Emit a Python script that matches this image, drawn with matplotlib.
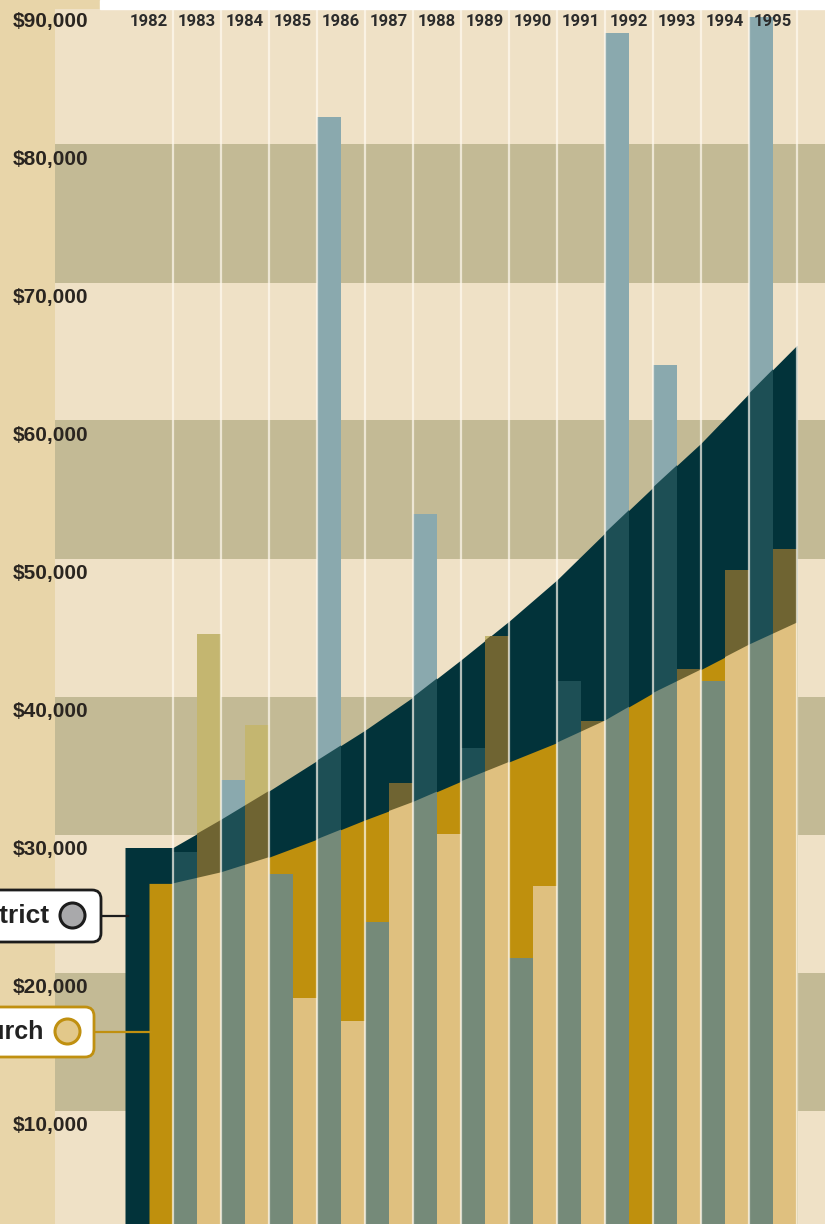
import numpy as np
import matplotlib
matplotlib.use('Agg')
from matplotlib import pyplot as plt
from matplotlib.patches import FancyBboxPatch, Rectangle
from matplotlib.lines import Line2D
from matplotlib.transforms import IdentityTransform, blended_transform_factory

years = list(range(1982, 1996))
# yearly averages (drawn as the two stepped areas)
district_avg = [30000, 32000, 34100, 36300, 38500, 40900, 43600, 46400, 49400, 52800, 56100, 59300, 62900, 66400]
church_avg = [27400, 28200, 29300, 30600, 32000, 33300, 34800, 36200, 37600, 39200, 41200, 42900, 44700, 46300]
# individual pay per year (bars), None = no bar
district_pay = [None, 29700, 34900, 28100, 82900, 24600, 54200, 37200, 22000, 42100, 89000, 65000, 42100, 90200]
church_pay = [None, 45500, 38900, 19100, 17400, 34700, 31000, 45300, 27200, 39200, None, 42900, 50100, 51600]
tick_values = [10000, 20000, 30000, 40000, 50000, 60000, 70000, 80000, 90000]
bands = [(10900, 20900), (30900, 40900), (50900, 60950), (70900, 81000)]

W, H = 825, 1224
# pixel layout of the original
x_first = 149      # centre of 1982
px_year = 48
y_zero = 1261.5    # where $0 would be
px_dollar = 0.0138

tan_strip = '#e8d5a9'
paper = '#efe1c6'
band_col = '#c3ba95'
teal = '#02333a'
gold = '#bf900d'
dist_cols = ('#8aa9ae', '#1d4f55', '#758a79')   # over paper, over teal, over gold
church_cols = ('#c4b670', '#6f6432', '#dfc07f')
txt_col = '#2a2520'

def fx(px):
    return px / W

def fy(py):
    return 1 - py / H

fig = plt.figure(figsize=(W / 100, H / 100), dpi=100, facecolor=tan_strip)
fig.patches.append(Rectangle((fx(100), fy(9)), 1 - fx(100), 9 / H,
                             transform=fig.transFigure, color='white', zorder=0))

ax = fig.add_axes([fx(55), fy(1224), fx(825) - fx(55), (1224 - 9) / H])
ax.set_facecolor(paper)
for s in ax.spines.values():
    s.set_visible(False)
ax.set_xlim((55 - x_first) / px_year, (825 - x_first) / px_year)
ax.set_ylim((y_zero - 1224) / px_dollar, (y_zero - 9) / px_dollar)

for lo, hi in bands:
    ax.axhspan(lo, hi, color=band_col, lw=0, zorder=1)

idx = np.arange(len(years))

# stepped average areas
xd = np.concatenate([[-0.5], idx + 0.5])
yd = [district_avg[0]] + district_avg
dist_area = ax.fill_between(xd, 0, yd, color=teal, lw=0, zorder=2)
xc = np.concatenate([[0], idx + 0.5])
yc = [church_avg[0]] + church_avg
church_area = ax.fill_between(xc, 0, yc, color=gold, lw=0, zorder=3)
dist_path = dist_area.get_paths()[0]
church_path = church_area.get_paths()[0]

def draw_bars(values, shift, cols):
    ks = [k for k, v in enumerate(values) if v is not None]
    xs = [k + shift for k in ks]
    hs = [values[k] for k in ks]
    ax.bar(xs, hs, width=0.5, align='edge', color=cols[0], lw=0, zorder=4)
    over_teal = ax.bar(xs, hs, width=0.5, align='edge', color=cols[1], lw=0, zorder=5)
    for p in over_teal:
        p.set_clip_path(dist_path, ax.transData)
    over_gold = ax.bar(xs, hs, width=0.5, align='edge', color=cols[2], lw=0, zorder=6)
    for p in over_gold:
        p.set_clip_path(church_path, ax.transData)

draw_bars(district_pay, -0.5, dist_cols)
draw_bars(church_pay, 0.0, church_cols)

for k in idx:
    ax.axvline(k + 0.5, color='#fffaf0', alpha=0.7, lw=1.6, zorder=7)

# year labels along the top
trans = blended_transform_factory(ax.transData, ax.transAxes)
for k, yr in zip(idx, years):
    ax.text(k, 1 - (21.5 - 9) / (1224 - 9), str(yr), transform=trans, ha='center', va='center',
            fontsize=12, fontweight='bold', color='#2b2b2b', family='Roboto', zorder=8)

ax.set_xticks([])
ax.set_yticks(tick_values)
ax.set_yticklabels(['${:,}'.format(v) for v in tick_values])
ax.tick_params(axis='y', length=0, pad=-23.8, labelsize=15, labelcolor=txt_col)
for lbl in ax.get_yticklabels():
    lbl.set_fontweight('bold')
    lbl.set_family('Liberation Sans')

# legend call-outs
def callout(label, size, text_right, y_mid, box_right, box_top, box_bot, edge, dot_x, dot_face, line_end):
    box = FancyBboxPatch((-30, H - box_bot), box_right + 30, box_bot - box_top,
                         boxstyle='round,pad=0,rounding_size=9', transform=IdentityTransform(),
                         facecolor='white', edgecolor=edge, lw=2, zorder=5)
    fig.patches.append(box)
    fig.add_artist(Line2D([fx(box_right), fx(line_end)], [fy(y_mid), fy(y_mid)],
                          transform=fig.transFigure, color=edge, lw=1.6, zorder=4))
    fig.text(fx(text_right), fy(y_mid), label, ha='right', va='center', fontsize=size,
             fontweight='bold', color='#222222', family='Liberation Sans', zorder=6)
    fig.add_artist(Line2D([fx(dot_x)], [fy(y_mid - 1)], transform=fig.transFigure, marker='o',
                          markersize=18, markerfacecolor=dot_face, markeredgecolor=edge,
                          markeredgewidth=2.2, zorder=6))

callout('District', 19, 49, 916, 101, 890, 942, '#1c1c1c', 72, '#a9a9ab', 128)
callout('Church', 18, 43, 1032, 94, 1007, 1057, '#c09010', 67, '#e2c88a', 151)

fig.savefig('out.png', dpi=100, facecolor=fig.get_facecolor())
